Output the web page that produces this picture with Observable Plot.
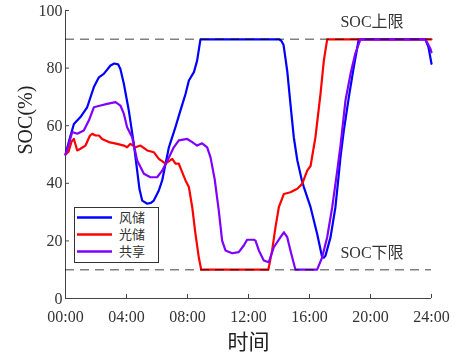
<!DOCTYPE html>
<html><head><meta charset="utf-8">
<script src="https://cdn.jsdelivr.net/npm/d3@7"></script>
<script src="https://cdn.jsdelivr.net/npm/@observablehq/plot@0.6"></script>
<style>
body{margin:0;background:#fff;}
#wrap{position:relative;width:462px;height:358px;}
#legend{position:absolute;left:74px;top:207px;}
</style>
</head><body>
<div id="wrap"><div id="chart"></div><div id="legend"></div></div>
<script>
// ---- data ----
const seriesNames = ["风储", "光储", "共享"];
const seriesColors = ["#0000ff", "#ff0000", "#8000ff"];

const windT = [0,0.25,0.55,0.98,1.42,1.86,2.19,2.51,2.95,3.2,3.45,3.6,3.83,4.15,4.48,4.7,4.85,5.03,5.36,5.6,5.79,6.12,6.34,6.78,7.21,7.54,7.87,8.09,8.42,8.63,8.85,14.0,14.15,14.3,14.54,14.75,14.97,15.2,15.5,15.63,16.07,16.5,16.83,16.95,17.05,17.38,17.7,17.9,18.03,18.25,18.58,18.9,19.23,23.6,23.8,24.0];
const windV = [50,55,60.6,63,66.4,73.4,76.8,78,80.9,81.6,81.3,79.7,74.5,65.3,53.7,44.4,38,34,32.9,33.2,34,37.5,41,52.5,59.5,65.3,71,75.7,78.6,82.6,90,90,89.5,88,79,67.6,56,48,41,38.7,31.7,22.5,14.3,14.2,14.9,21.3,31.7,42,49,58.3,69.9,80.3,90,90,87.3,81.5];

const pvT = [0,0.2,0.4,0.55,0.77,0.98,1.31,1.6,1.75,1.97,2.19,2.4,2.84,3.39,3.83,4.04,4.26,4.59,4.92,5.36,5.79,6.12,6.56,7.0,7.21,7.43,7.65,7.87,8.09,8.31,8.52,8.74,8.9,13.3,13.55,13.77,13.99,14.32,14.75,15.2,15.52,15.85,16.07,16.39,16.72,16.94,17.16,24];
const pvV = [50,51,54.5,55.4,51.4,52,53.1,56.5,57.2,56.6,56.6,55.4,54.3,53.7,53.1,52.5,53.7,52.5,53.1,51.4,50.8,48.5,46.8,48.5,46.8,46.8,43.9,41,38.7,31.7,22.5,14.3,10,10,16.7,24.8,31.7,36.3,36.9,38.1,39.8,44.4,46,56,71,82.6,90,90];

const shareT = [0,0.22,0.44,0.77,1.2,1.53,1.86,2.3,2.73,3.28,3.6,3.83,4.04,4.37,4.7,5.14,5.57,6.01,6.34,6.78,7.1,7.43,7.98,8.31,8.63,8.96,9.29,9.51,9.78,10.05,10.27,10.49,10.93,11.36,11.69,11.91,12.35,12.46,12.68,13.0,13.33,13.66,14.1,14.32,14.54,14.75,15.08,16.5,16.83,17.16,17.49,17.82,18.03,18.36,18.69,19.0,19.34,23.6,23.93,24];
const shareV = [50,53.7,57.8,57.2,58.3,61.8,66.4,67,67.6,68.2,67,64.1,59.5,56,47.9,43.3,42.1,42.1,44.4,49,52.5,54.9,55.4,54.3,53.1,53.9,52.5,49,41.5,30.6,20.1,16.7,15.7,16.1,18.4,20.4,20.4,20.1,16.7,13.2,12.6,17.8,21.3,23,21.3,16.7,10,10,14.3,21.3,31.7,44.4,53,68.8,78,85,90,90,86.7,85.5];

const xTicks = [0,4,8,12,16,20,24];
const yTicks = [0,20,40,60,80,100];
const limitValues = [90, 10];
const limitLabels = ["SOC上限", "SOC下限"];
const xLabel = "时间";
const yLabel = "SOC(%)";

// ---- build ----
const toRows = (T, V, name) => T.map((t, i) => ({t, v: V[i], name}));
const rows = [
  ...toRows(windT, windV, seriesNames[0]),
  ...toRows(pvT, pvV, seriesNames[1]),
  ...toRows(shareT, shareV, seriesNames[2])
];
const serif = '"Liberation Serif","Times New Roman",serif';
const fmt = h => String(h).padStart(2, "0") + ":00";

const chart = Plot.plot({
  width: 462, height: 358,
  marginLeft: 65, marginRight: 31, marginTop: 10, marginBottom: 60,
  style: {fontFamily: serif, background: "#fff", overflow: "visible"},
  x: {domain: [0, 24]},
  y: {domain: [0, 100]},
  color: {domain: seriesNames, range: seriesColors},
  marks: [
    Plot.axisX({ticks: xTicks, tickFormat: fmt, tickSize: 0, tickPadding: 12, label: null, fontSize: 16, color: "#333"}),
    Plot.axisY({ticks: yTicks, tickSize: 0, tickPadding: 3, label: null, fontSize: 16, color: "#333"}),
    Plot.ruleY([0], {stroke: "#444", strokeWidth: 1}),
    Plot.ruleX([0], {stroke: "#444", strokeWidth: 1}),
    Plot.ruleX(xTicks, {x: d => d, y1: 0, y2: 1.4, stroke: "#444"}),
    Plot.ruleY(yTicks, {y: d => d, x1: 0, x2: 0.26, stroke: "#444"}),
    Plot.line(rows.filter(d => d.name === seriesNames[0]), {x: "t", y: "v", stroke: seriesColors[0], strokeWidth: 2.2}),
    Plot.line(rows.filter(d => d.name === seriesNames[1]), {x: "t", y: "v", stroke: seriesColors[1], strokeWidth: 2.2}),
    Plot.line(rows.filter(d => d.name === seriesNames[2]), {x: "t", y: "v", stroke: seriesColors[2], strokeWidth: 2.2}),
    Plot.ruleY(limitValues, {y: d => d, x1: 0, x2: 24, stroke: "#808080", strokeWidth: 1.5, strokeDasharray: "9,6", mixBlendMode: "multiply"}),
    Plot.text(limitValues, {x: 18.03, y: d => d, text: (d, i) => limitLabels[i], textAnchor: "start", dy: -17, fontSize: 16, fill: "#333", fontFamily: '"Liberation Serif","Noto Sans CJK SC",serif'}),
    Plot.text([xLabel], {frameAnchor: "bottom", dy: 50, fontSize: 21, fill: "#222", fontFamily: '"Noto Sans CJK SC",serif'}),
    Plot.text([yLabel], {frameAnchor: "left", dx: -40, rotate: -90, fontSize: 20, fill: "#222"})
  ]
});
document.getElementById("chart").appendChild(chart);

// ---- legend ----
const lw = 85, lh = 56;
const lsvg = d3.select("#legend").append("svg").attr("width", lw).attr("height", lh);
lsvg.append("rect").attr("x", 0.5).attr("y", 0.5).attr("width", lw - 1).attr("height", lh - 1).attr("fill", "#fff").attr("stroke", "#333");
seriesNames.forEach((n, i) => {
  const cy = 10.5 + i * 17;
  lsvg.append("line").attr("x1", 3).attr("x2", 38).attr("y1", cy).attr("y2", cy).attr("stroke", seriesColors[i]).attr("stroke-width", 2.5);
  lsvg.append("text").attr("x", 45).attr("y", cy).attr("dy", "0.35em").attr("font-size", 13).attr("fill", "#333").attr("font-family", '"Liberation Serif","Noto Sans CJK SC",serif').text(n);
});
</script>
</body></html>
